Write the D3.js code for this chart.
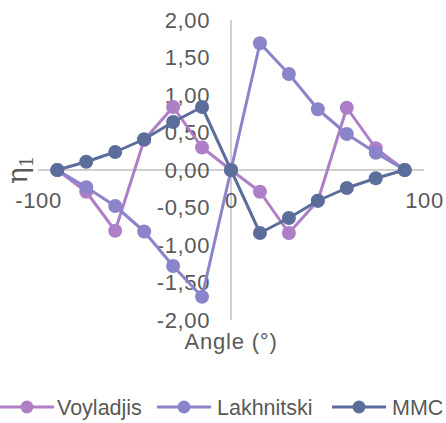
<!DOCTYPE html>
<html>
<head>
<meta charset="utf-8">
<script src="https://cdn.jsdelivr.net/npm/d3@7/dist/d3.min.js"></script>
<style>
  html, body { margin: 0; padding: 0; background: #fff; }
  svg { display: block; }
  text { font-family: "Liberation Sans", Arial, sans-serif; fill: #595959; }
</style>
</head>
<body>
<svg id="chart" width="446" height="423"></svg>
<script>
// Angle of the fibre orientation (degrees)
const angles = [-90, -75, -60, -45, -30, -15, 0, 15, 30, 45, 60, 75, 90];

// η1 for each model
const voyladjis  = [0, -0.29, -0.81, 0.40, 0.84, 0.30, 0, -0.29, -0.84, -0.41, 0.83, 0.29, 0];
const lakhnitski = [0, -0.23, -0.48, -0.82, -1.28, -1.69, 0, 1.69, 1.28, 0.81, 0.48, 0.23, 0];
const mmc        = [0, 0.11, 0.24, 0.41, 0.64, 0.84, 0, -0.84, -0.64, -0.41, -0.24, -0.11, 0];

const seriesNames = ["Voyladjis", "Lakhnitski", "MMC"];
const seriesColors = ["#AE7EC6", "#8A84CA", "#5B6E9B"];
const seriesValues = [voyladjis, lakhnitski, mmc];

const xTicks = [-100, 0, 100];
const yTicks = [2, 1.5, 1, 0.5, 0, -0.5, -1, -1.5, -2];

const svg = d3.select("#chart");

const x = d3.scaleLinear().domain([-100, 100]).range([38, 424]);
const y = d3.scaleLinear().domain([-2, 2]).range([320, 20]);

const fmt = v => v.toFixed(2).replace(".", ",");

// axis lines through the origin
svg.append("line")
  .attr("x1", x(-100)).attr("x2", x(100))
  .attr("y1", y(0)).attr("y2", y(0))
  .attr("stroke", "#BFBFBF").attr("stroke-width", 1.5);
svg.append("line")
  .attr("x1", x(0)).attr("x2", x(0))
  .attr("y1", y(2)).attr("y2", y(-2))
  .attr("stroke", "#BFBFBF").attr("stroke-width", 1.5);

// y tick labels, left of the vertical axis
const yAxis = svg.append("g")
  .attr("transform", `translate(${x(0)},0)`)
  .call(d3.axisLeft(y).tickValues(yTicks).tickSize(0).tickPadding(21).tickFormat(fmt));
yAxis.select(".domain").remove();
yAxis.selectAll("text")
  .style("font-family", "'Liberation Sans', Arial, sans-serif")
  .style("font-size", "22px").attr("fill", "#595959")
  .attr("letter-spacing", "0.6");

// x tick labels, below the horizontal axis
const xAxis = svg.append("g")
  .attr("transform", `translate(0,${y(0)})`)
  .call(d3.axisBottom(x).tickValues(xTicks).tickSize(0).tickPadding(22).tickFormat(d3.format("d")));
xAxis.select(".domain").remove();
xAxis.selectAll("text")
  .style("font-family", "'Liberation Sans', Arial, sans-serif")
  .style("font-size", "22px").attr("fill", "#595959")
  .attr("letter-spacing", "0.6")
  .text(d => String(d).replace("\u2212", "-"));

// series lines and markers
const line = d3.line().x(d => x(d[0])).y(d => y(d[1]));
seriesValues.forEach((vals, i) => {
  const pts = angles.map((a, j) => [a, vals[j]]);
  const g = svg.append("g");
  g.append("path")
    .attr("d", line(pts))
    .attr("fill", "none")
    .attr("stroke", seriesColors[i])
    .attr("stroke-width", 3)
    .attr("stroke-linejoin", "round");
  g.selectAll("circle").data(pts).join("circle")
    .attr("cx", d => x(d[0])).attr("cy", d => y(d[1]))
    .attr("r", 7).attr("fill", seriesColors[i]);
});

// axis titles
svg.append("text")
  .attr("x", x(0)).attr("y", 349)
  .attr("text-anchor", "middle")
  .style("font-size", "22px")
  .attr("letter-spacing", "0.8")
  .text("Angle (°)");

svg.append("text")
  .attr("transform", `translate(27,${y(0) + 14}) rotate(-90)`)
  .style("font-family", "'DejaVu Serif', 'Liberation Serif', serif")
  .style("font-size", "28px")
  .html('η<tspan dy="6" font-size="18">1</tspan>');

// legend
const legendItems = [
  { lx: 0, tx: 57 },
  { lx: 157, tx: 217 },
  { lx: 332, tx: 392 }
];
const ly = 407;
legendItems.forEach((it, i) => {
  const g = svg.append("g");
  g.append("line")
    .attr("x1", it.lx).attr("x2", it.lx + 54)
    .attr("y1", ly).attr("y2", ly)
    .attr("stroke", seriesColors[i]).attr("stroke-width", 3);
  g.append("circle")
    .attr("cx", it.lx + 27).attr("cy", ly).attr("r", 6.5)
    .attr("fill", seriesColors[i]);
  g.append("text")
    .attr("x", it.tx).attr("y", ly + 8)
    .style("font-size", "21.5px")
    .text(seriesNames[i]);
});
</script>
</body>
</html>
